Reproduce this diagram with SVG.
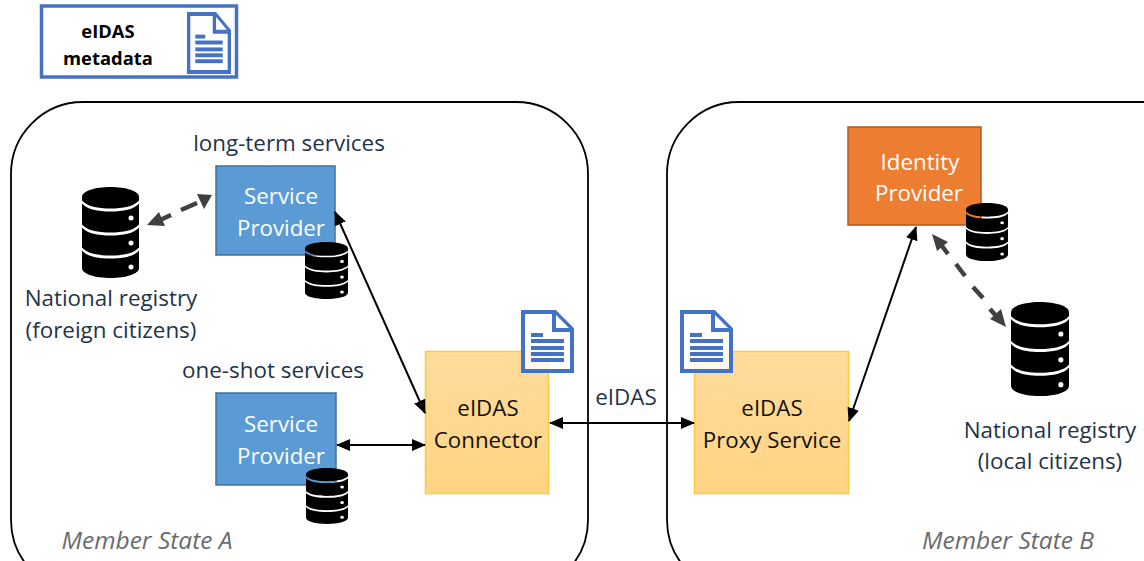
<svg xmlns="http://www.w3.org/2000/svg" width="1144" height="561" viewBox="0 0 1144 561">
<style>
text{font-family:"Open Sans","Noto Sans","Liberation Sans",sans-serif;text-anchor:middle}
.w{fill:#fff;font-size:22.300px}
.k{fill:#111;font-size:22.300px}
.n{fill:#1f3449;font-size:22.400px}
.i{fill:#6b6b6b;font-size:24.500px;font-style:italic}
.b{fill:#000;font-size:18.400px;font-weight:700}
.ms{fill:#fff;stroke:#000;stroke-width:1.800}
.sp{fill:#5b9bd5;stroke:#41719c;stroke-width:1.500}
.y{fill:url(#yg);stroke:#ffc83d;stroke-width:1.500}
.s{stroke:#000;stroke-width:2;fill:none;marker-start:url(#a);marker-end:url(#a)}
.d{stroke:#404040;stroke-width:4.500;fill:none}
.h{fill:#404040}
</style>
<defs>
<linearGradient id="yg" x1="0" y1="0" x2="0" y2="1"><stop offset="0" stop-color="#ffdc9c"/><stop offset="1" stop-color="#ffd484"/></linearGradient>
<marker id="a" viewBox="0 0 14 12" refX="13" refY="6" markerUnits="userSpaceOnUse" markerWidth="14" markerHeight="12" orient="auto-start-reverse"><path d="M0 0L14 6L0 12z" fill="#000"/></marker>
<symbol id="db" viewBox="0 0 57 91" preserveAspectRatio="none" overflow="visible">
<path fill="#000" d="M0 10C0 4 13 0 28.500 0S57 4 57 10V13.500C52 19.500 41 21.500 28.500 21.500S5 19.500 0 13.500z"/>
<path fill="#000" d="M0 16.500C5 22.500 16 24.500 28.500 24.500S52 22.500 57 16.500V37.500C52 43.500 41 45.500 28.500 45.500S5 43.500 0 37.500z"/>
<path fill="#000" d="M0 40.500C5 46.500 16 48.500 28.500 48.500S52 46.500 57 40.500V60.500C52 66.500 41 68.500 28.500 68.500S5 66.500 0 60.500z"/>
<path fill="#000" d="M0 63.500C5 69.500 16 71.500 28.500 71.500S52 69.500 57 63.500V81C57 87 44 91 28.500 91S0 87 0 81z"/>
<g fill="#fff"><circle cx="49" cy="31" r="2.500"/><circle cx="49" cy="56" r="2.500"/><circle cx="49" cy="80" r="2.500"/></g>
</symbol>
<symbol id="doc" viewBox="0 0 53 63" preserveAspectRatio="none" overflow="visible">
<path d="M2 2H34L51 19V61H2z" fill="#fff" fill-opacity=".82" stroke="#4472c4" stroke-width="4"/>
<path d="M33 3V20H50" fill="#fff" stroke="#4472c4" stroke-width="4"/>
<g fill="#4472c4"><rect x="10" y="23" width="12" height="4"/><rect x="10" y="29" width="33" height="4"/><rect x="10" y="36" width="33" height="4"/><rect x="10" y="42" width="33" height="4"/><rect x="10" y="48" width="33" height="4"/></g>
</symbol>
</defs>
<g id="legend"><rect x="41.500" y="6" width="195" height="71" fill="#fff" stroke="#4472c4" stroke-width="3.500"/><text class="b" x="108" y="38">eIDAS</text><text class="b" x="108" y="65">metadata</text><use href="#doc" x="187" y="12" width="44" height="62"/></g>
<g id="member-state-a"><rect class="ms" x="11" y="102" width="577" height="490" rx="72"/><text class="i" x="147" y="549">Member State A</text></g>
<g id="member-state-b"><rect class="ms" x="667" y="102" width="560" height="490" rx="72"/><text class="i" x="1008" y="549">Member State B</text></g>
<g id="sp-long"><text class="n" x="289" y="151">long-term services</text><rect class="sp" x="216" y="166" width="119" height="89"/><text class="w" x="281" y="204">Service</text><text class="w" x="281" y="236">Provider</text><use href="#db" x="305" y="242" width="43" height="57"/></g>
<g id="sp-oneshot"><text class="n" x="273" y="378">one-shot services</text><rect class="sp" x="216" y="393" width="120" height="92"/><text class="w" x="281" y="432">Service</text><text class="w" x="281" y="464">Provider</text><use href="#db" x="306" y="468" width="42" height="56"/></g>
<g id="registry-foreign"><use href="#db" x="82" y="187" width="57" height="91"/><text class="n" x="111" y="306">National registry</text><text class="n" x="111" y="338">(foreign citizens)</text></g>
<g id="connector"><rect class="y" x="425.500" y="351.500" width="123" height="142"/><text class="k" x="488" y="416">eIDAS</text><text class="k" x="488" y="448">Connector</text><use href="#doc" x="521" y="310" width="53" height="63"/></g>
<g id="proxy"><rect class="y" x="694.500" y="351.500" width="154" height="142"/><text class="k" x="772" y="416">eIDAS</text><text class="k" x="772" y="448">Proxy Service</text><use href="#doc" x="680" y="310" width="53" height="63"/></g>
<g id="idp"><rect x="848" y="127" width="133" height="98" fill="#ed7d31" stroke="#ae5a21" stroke-width="1.500"/><text class="w" x="920" y="170">Identity</text><text class="w" x="919" y="201">Provider</text><use href="#db" x="966" y="203" width="42" height="58"/></g>
<g id="registry-local"><use href="#db" x="1011" y="302" width="58" height="94"/><text class="n" x="1050" y="438">National registry</text><text class="n" x="1050" y="469">(local citizens)</text></g>
<text class="n" x="626" y="405">eIDAS</text>
<g id="connectors">
<path class="s" d="M335 212L425 413"/>
<path class="s" d="M337 445H425"/>
<path class="s" d="M550 423H694"/>
<path class="s" d="M849 421L916 227"/>
<path class="d" d="M158 221L171 215M181 210L197 203"/><path class="h" d="M147 225L159 212L165 226z M212 195L197 194L204 209z"/>
<path class="d" d="M942 246L948 254M956 264L965 276M973 287L983 298M990 309L997 317"/><path class="h" d="M932 234L948 242L937 251z M1006 327L990 319L1001 309z"/>
</g>
</svg>
